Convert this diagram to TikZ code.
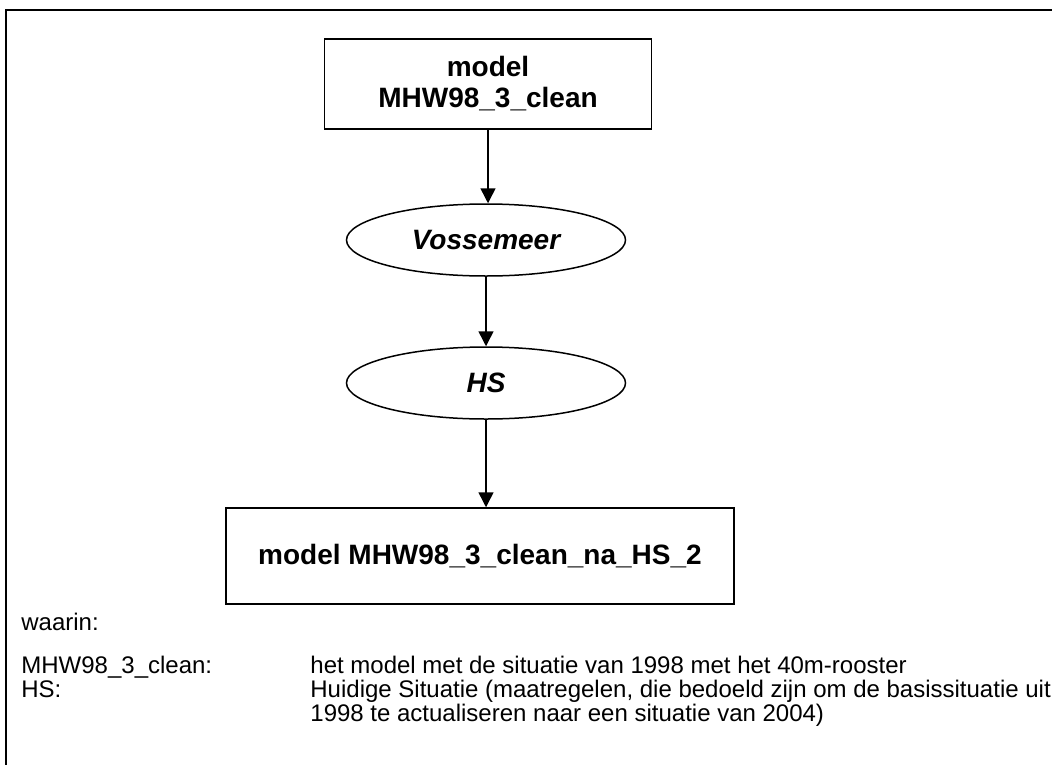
\documentclass[tikz,border=0pt]{standalone}
\usepackage{fontspec}
\setmainfont{Liberation Sans}
\usetikzlibrary{arrows.meta, positioning, shapes.geometric}

\begin{document}
\begin{tikzpicture}[
  x=0.5pt, y=-0.5pt,
  font=\fontsize{12}{12}\selectfont,
  box/.style={draw,line width=0.75pt,align=center,inner sep=0pt,font=\fontsize{14}{15.5}\selectfont\bfseries},
  oval/.style={draw,ellipse,line width=0.75pt,minimum width=139.5pt,minimum height=36pt,inner sep=0pt,font=\fontsize{14}{17}\selectfont\bfseries\itshape},
  arr/.style={-{Triangle[length=7.5pt,width=7.5pt]},line width=0.75pt},
  note/.style={anchor=base west,inner sep=0pt,align=left}
]
\useasboundingbox (0,0) rectangle (1052,765);
\draw[line width=1pt] (1052,10) -| (6,765);
\node[box,minimum width=163.5pt,minimum height=45pt] (model) at (488,84) {model\\MHW98\_3\_clean};
\node[oval] (voss) at (486,240) {Vossemeer};
\node[oval] (hs) at (486,383) {HS};
\node[box,minimum width=254pt,minimum height=48pt] (result) at (480,556) {model MHW98\_3\_clean\_na\_HS\_2};
\draw[arr] (model.south) -- (model.south |- voss.north);
\draw[arr] (voss.south) -- (voss.south |- hs.north);
\draw[arr] (hs.south) -- (hs.south |- result.north);
% legenda
\node[note] (waarin) at (21,630) {waarin:};
\node[note] (keymhw) at (21,673) {MHW98\_3\_clean:};
\node[note] (keyhs) at (21,697) {HS:};
\node[note] (descmhw) at (310,673) {het model met de situatie van 1998 met het 40m-rooster};
\node[note] (deschs) at (310,721) {Huidige Situatie (maatregelen, die bedoeld zijn om de basissituatie uit\\1998 te actualiseren naar een situatie van 2004)};
\end{tikzpicture}
\end{document}
